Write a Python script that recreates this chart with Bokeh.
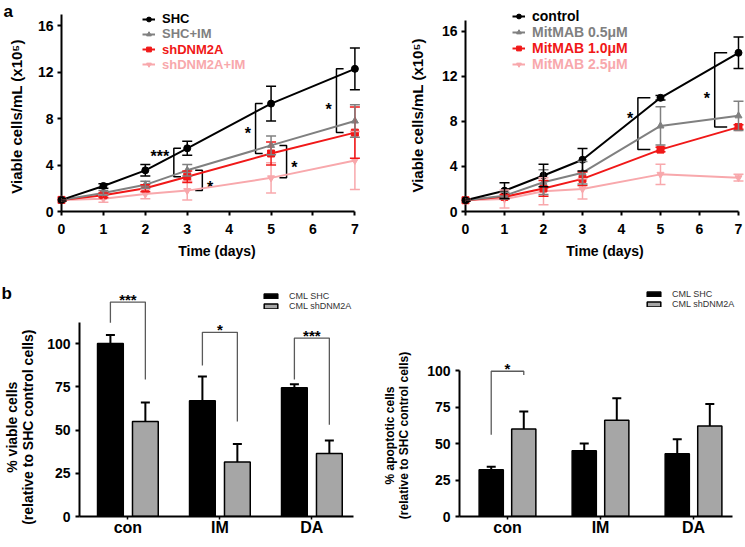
import numpy as np
from bokeh.plotting import figure
from bokeh.models import (ColumnDataSource, Whisker, TeeHead, Legend, LegendItem,
                          FixedTicker, Range1d)
from bokeh.layouts import column, row
from bokeh.embed import file_html
from bokeh.resources import INLINE
from bokeh.core.properties import value

FONT = "Liberation Sans"

# ---------------- panel a (left): shRNA growth curves ----------------
days = [0, 1, 2, 3, 5, 7]
shc = [1.0, 2.2, 3.55, 5.45, 9.3, 12.3]
shc_err = [0.1, 0.2, 0.5, 0.6, 1.5, 1.8]
shc_im = [1.0, 1.6, 2.3, 3.55, 5.7, 7.8]
shc_im_err = [0.1, 0.2, 0.3, 0.5, 0.8, 1.4]
dnm = [1.0, 1.4, 2.0, 3.0, 5.0, 6.8]
dnm_err = [0.1, 0.2, 0.3, 0.5, 1.0, 2.2]
dnm_im = [1.0, 1.1, 1.5, 1.8, 2.9, 4.4]
dnm_im_err = [0.1, 0.3, 0.4, 0.8, 1.3, 2.5]
labels_a1 = ["SHC", "SHC+IM", "shDNM2A", "shDNM2A+IM"]

# ---------------- panel a (right): MitMAB growth curves ----------------
ctrl = [1.0, 1.85, 3.2, 4.6, 10.1, 14.1]
ctrl_err = [0.1, 0.7, 1.0, 1.0, 0.2, 1.4]
mit05 = [1.0, 1.4, 2.6, 3.45, 7.6, 8.5]
mit05_err = [0.1, 0.3, 1.1, 1.0, 1.7, 1.3]
mit10 = [1.0, 1.3, 2.05, 2.9, 5.5, 7.5]
mit10_err = [0.1, 0.2, 0.7, 0.6, 0.2, 0.2]
mit25 = [1.0, 1.1, 1.8, 2.0, 3.3, 3.0]
mit25_err = [0.1, 0.8, 1.2, 0.9, 0.9, 0.3]
labels_a2 = ["control", "MitMAB 0.5\u03bcM", "MitMAB 1.0\u03bcM", "MitMAB 2.5\u03bcM"]

x_ticks_a = [0, 1, 2, 3, 4, 5, 6, 7]
y_ticks_a = [0, 4, 8, 12, 16]
y_title_a = "Viable cells/mL (x10\u2075)"

# significance brackets (day, upper series index, lower series index, label)
sig_a1_day = [3, 3, 5, 5, 7]
sig_a1_hi = [0, 1, 0, 1, 0]
sig_a1_lo = [2, 3, 2, 3, 2]
sig_a1_txt = ["***", "*", "*", "*", "*"]
sig_a2_day = [5, 7]
sig_a2_hi = [0, 0]
sig_a2_lo = [2, 2]
sig_a2_txt = ["*", "*"]

# ---------------- panel b: bar charts ----------------
groups = ["con", "IM", "DA"]
bar_labels = ["CML SHC", "CML shDNM2A"]
viable_shc = [100, 67, 74.5]
viable_shc_err = [5, 14, 2]
viable_dnm = [55, 31.5, 36.5]
viable_dnm_err = [11, 10.5, 7.5]
apop_shc = [32, 45, 43]
apop_shc_err = [2, 5, 10]
apop_dnm = [60, 66, 62]
apop_dnm_err = [12, 15, 15]
y_ticks_b = [0, 25, 50, 75, 100]
sig_b1_txt = ["***", "*", "***"]
sig_b2_txt = ["*", "", ""]

BLACK = "#000000"
GRAY = "#808080"
RED = "#f01818"
PINK = "#f8a8ac"
BAR_GRAY = "#a6a6a6"
colors_a = [BLACK, GRAY, RED, PINK]
markers_a = ["circle", "triangle", "square", "inverted_triangle"]


def style(p, tick_px="14px", title_px="14px"):
    p.outline_line_color = None
    p.xgrid.visible = False
    p.ygrid.visible = False
    for ax in (p.xaxis[0], p.yaxis[0]):
        ax.axis_line_width = 2
        ax.axis_line_color = "black"
        ax.major_tick_line_width = 2
        ax.major_tick_line_color = "black"
        ax.major_tick_in = 0
        ax.major_tick_out = 4
        ax.minor_tick_line_color = None
        ax.major_label_text_font = FONT
        ax.major_label_text_font_style = "bold"
        ax.major_label_text_font_size = tick_px
        ax.major_label_text_color = "black"
        ax.axis_label_text_font = FONT
        ax.axis_label_text_font_style = "bold"
        ax.axis_label_text_font_size = title_px
        ax.axis_label_text_color = "black"


class Frame:
    """pixel geometry of a plot frame, to place free text outside the axes"""
    def __init__(self, left, bottom, x0, y0, sx, sy):
        self.left, self.bottom, self.x0, self.y0, self.sx, self.sy = left, bottom, x0, y0, sx, sy

    def dx(self, px):
        return self.x0 + (px - self.left) / self.sx

    def dy(self, py):
        return self.y0 + (self.bottom - py) / self.sy


def free_text(p, fr, px, py, txt, size, angle=0.0, align="center", baseline="middle"):
    p.text(x=[fr.dx(px)], y=[fr.dy(py)], text=[txt], angle=angle, text_align=align,
           text_baseline=baseline, text_font=value(FONT), text_font_style="bold",
           text_font_size=size, text_color="black", level="overlay")


def add_series(p, y, err, color, marker, size, head):
    lo = [a - b for a, b in zip(y, err)]
    hi = [a + b for a, b in zip(y, err)]
    src = ColumnDataSource(dict(x=days, y=y, lo=lo, hi=hi))
    w = Whisker(base="x", upper="hi", lower="lo", source=src, line_color=color,
                line_width=1.5, level="overlay",
                upper_head=TeeHead(size=head, line_color=color, line_width=1.5),
                lower_head=TeeHead(size=head, line_color=color, line_width=1.5))
    p.add_layout(w)
    ln = p.line("x", "y", source=src, line_color=color, line_width=2, level="overlay")
    sc = p.scatter("x", "y", source=src, marker=marker, size=size, fill_color=color,
                   line_color=color, level="overlay")
    return [ln, sc]


def line_panel(series, errs, labels, width, height, mb, xr, yr, leg_x, leg_y0, leg_dy,
               leg_px, sig, tick_len, star_gap, star_frac, offsets, head):
    p = figure(width=width, height=height, toolbar_location=None, output_backend="svg",
               x_range=Range1d(0, xr), y_range=Range1d(0, yr),
               min_border_left=mb[0], min_border_right=mb[1], min_border_top=mb[2],
               min_border_bottom=mb[3])
    style(p)
    p.xaxis.ticker = FixedTicker(ticks=x_ticks_a)
    p.yaxis.ticker = FixedTicker(ticks=y_ticks_a)
    p.xaxis.bounds = (0, 7)
    p.yaxis.bounds = (0, 17)
    p.xaxis.axis_label = "Time (days)"
    p.xaxis.major_label_standoff = 8
    p.yaxis.major_label_standoff = 4
    p.xaxis.axis_label_standoff = 6
    rends = []
    for i in reversed(range(4)):
        rends.insert(0, add_series(p, series[i], errs[i], colors_a[i], markers_a[i], 7, head))
    for i in range(4):
        leg = Legend(items=[LegendItem(label=labels[i], renderers=rends[i])],
                     location=(leg_x, leg_y0 - i * leg_dy), padding=0, margin=0,
                     border_line_color=None, background_fill_alpha=0,
                     glyph_width=13, glyph_height=12, label_height=12, label_standoff=7,
                     label_width=90,
                     label_text_font=FONT, label_text_font_style="bold",
                     label_text_font_size=leg_px, label_text_color=colors_a[i], spacing=0)
        p.add_layout(leg)
    # significance brackets
    days_arr = np.array(days)
    bx, by, sx, sy, st, sa = [], [], [], [], [], []
    for k, (d, hi_i, lo_i, txt) in enumerate(zip(*sig)):
        j = int(np.where(days_arr == d)[0][0])
        ytop = series[hi_i][j]
        ybot = series[lo_i][j]
        xv = d + offsets[k]
        sgn = 1 if offsets[k] < 0 else -1
        bx.append([xv + sgn * tick_len, xv, xv, xv + sgn * tick_len])
        by.append([ytop, ytop, ybot, ybot])
        sx.append(xv - sgn * star_gap)
        sy.append(ybot + (ytop - ybot) * star_frac[k])
        st.append(txt)
        sa.append("right" if sgn > 0 else "left")
    p.multi_line(bx, by, line_color="black", line_width=1.5)
    p.text(x=sx, y=sy, text=st, text_align=sa, text_baseline="middle",
           text_font=value(FONT), text_font_style="bold", text_font_size="16px",
           text_color="black", y_offset=5)
    return p


# a (left): frame x 61..372, y 0..211 ; 41.9 px/day, 11.6 px/unit
pa1 = line_panel([shc, shc_im, dnm, dnm_im], [shc_err, shc_im_err, dnm_err, dnm_im_err],
                 labels_a1, 372, 262, (61, 0, 0, 51), 7.42, 18.19,
                 81, 185, 15.3, "13px",
                 (sig_a1_day, sig_a1_hi, sig_a1_lo, sig_a1_txt),
                 0.17, 0.11, [0.88, 0.42, 0.5, 0.47, 0.44],
                 [-0.32, 0.36, -0.37, 0.37, -0.44], 10)
fa1 = Frame(61, 211, 0.0, 0.0, 41.9, 11.6)
free_text(pa1, fa1, 16, 116, y_title_a, "15px", angle=np.pi / 2)
free_text(pa1, fa1, 3, 1, "a", "17px", align="left", baseline="top")

# a (right): frame x 465..744, y 0..213 ; 39 px/day, 11.36 px/unit
pa2 = line_panel([ctrl, mit05, mit10, mit25], [ctrl_err, mit05_err, mit10_err, mit25_err],
                 labels_a2, 372, 262, (93, 0, 0, 49), 7.154, 18.75,
                 47, 187, 16, "14px",
                 (sig_a2_day, sig_a2_hi, sig_a2_lo, sig_a2_txt),
                 0.32, 0.12, [0.7, 0.45],
                 [-0.58, -0.61], 10)
fa2 = Frame(93, 213, 0.0, 0.0, 39.0, 11.36)
free_text(pa2, fa2, 45, 116, y_title_a, "15px", angle=np.pi / 2)


def bar_panel(v1, e1, v2, e2, width, height, mb, xr, xbound, yr, ybound, bw, off,
              leg_xy, sig_txt, sig_top, sig_lbot, sig_rbot):
    p = figure(width=width, height=height, toolbar_location=None, output_backend="svg",
               x_range=Range1d(*xr), y_range=Range1d(0, yr),
               min_border_left=mb[0], min_border_right=mb[1], min_border_top=mb[2],
               min_border_bottom=mb[3])
    style(p, tick_px="14px")
    idx = np.arange(len(groups))
    p.xaxis.ticker = FixedTicker(ticks=list(idx))
    p.xaxis.major_label_overrides = {int(i): g for i, g in zip(idx, groups)}
    p.xaxis.major_label_text_font_size = "16px"
    p.xaxis.major_tick_out = 3
    p.xaxis.major_tick_line_width = 1.5
    p.xaxis.major_label_standoff = -1
    p.xaxis.bounds = xbound
    p.yaxis.ticker = FixedTicker(ticks=y_ticks_b)
    p.yaxis.bounds = (0, ybound)
    p.yaxis.major_label_standoff = 5
    x1 = idx - off
    x2 = idx + off
    r1 = p.vbar(x=x1, top=v1, width=bw, bottom=0, fill_color=BLACK, line_color="black",
                line_width=1.5)
    r2 = p.vbar(x=x2, top=v2, width=bw, bottom=0, fill_color=BAR_GRAY, line_color="black",
                line_width=1.5)
    for xs, v, e in ((x1, v1, e1), (x2, v2, e2)):
        src = ColumnDataSource(dict(x=xs, lo=v, hi=[a + b for a, b in zip(v, e)]))
        p.add_layout(Whisker(base="x", upper="hi", lower="lo", source=src,
                             line_color="black", line_width=2, lower_head=None,
                             upper_head=TeeHead(size=9, line_color="black", line_width=2)))
    leg = Legend(items=[LegendItem(label=bar_labels[0], renderers=[r1]),
                        LegendItem(label=bar_labels[1], renderers=[r2])],
                 location=leg_xy, padding=0, margin=0, border_line_color=None,
                 background_fill_alpha=0, glyph_width=17, glyph_height=6, label_height=8,
                 label_width=70, label_standoff=10, spacing=0, label_text_font=FONT,
                 label_text_font_size="9px", label_text_color="#333333")
    p.add_layout(leg)
    bx, by, tx, ty, tt = [], [], [], [], []
    for i in range(len(groups)):
        if not sig_txt[i]:
            continue
        bx.append([x1[i], x1[i], x2[i], x2[i]])
        by.append([sig_lbot[i], sig_top[i], sig_top[i], sig_rbot[i]])
        tx.append((x1[i] + x2[i]) / 2)
        ty.append(sig_top[i])
        tt.append(sig_txt[i])
    p.multi_line(bx, by, line_color="#5a5a5a", line_width=1.3)
    p.text(x=tx, y=ty, text=tt, text_align="center", text_baseline="bottom",
           text_font=value(FONT), text_font_style="bold", text_font_size="15px",
           text_color="black", y_offset=6)
    return p


# b (left): frame x 79..372, y 262..518 (page) ; axis 79..353 ; 92 px/unit, 1.743 px/%
pb1 = bar_panel(viable_shc, viable_shc_err, viable_dnm, viable_dnm_err,
                372, 284, (79, 0, 0, 28), (-0.526, 2.659), (-0.526, 2.45),
                146.9, 112, 0.28, 0.19,
                (183, 205), sig_b1_txt, [124, 106.5, 103.2], [112, 87.4, 79.3],
                [79.3, 54.9, 53])
fb1 = Frame(79, 256, -0.526, 0.0, 92.0, 1.743)
free_text(pb1, fb1, 11, 166, "% viable cells", "14px", angle=np.pi / 2)
free_text(pb1, fb1, 27, 166, "(relative to SHC control cells)", "14px", angle=np.pi / 2)
free_text(pb1, fb1, 1, 22, "b", "17px", align="left", baseline="top")

# b (right): frame x 459..744, y 262..516 (page) ; axis 459..732 ; 93 px/unit, 1.46 px/%
pb2 = bar_panel(apop_shc, apop_shc_err, apop_dnm, apop_dnm_err,
                372, 284, (87, 0, 0, 30), (-0.516, 2.548), (-0.516, 2.419),
                174, 100, 0.26, 0.175,
                (186, 207), sig_b2_txt, [99.5, 0, 0], [56, 0, 0], [97, 0, 0])
fb2 = Frame(87, 254, -0.516, 0.0, 93.0, 1.46)
free_text(pb2, fb2, 17.5, 173, "% apoptotic cells", "12px", angle=np.pi / 2)
free_text(pb2, fb2, 32, 173, "(relative to SHC control cells)", "12px", angle=np.pi / 2)

layout = column(row(pa1, pa2), row(pb1, pb2))
open("out.html", "w").write(file_html(layout, INLINE))
